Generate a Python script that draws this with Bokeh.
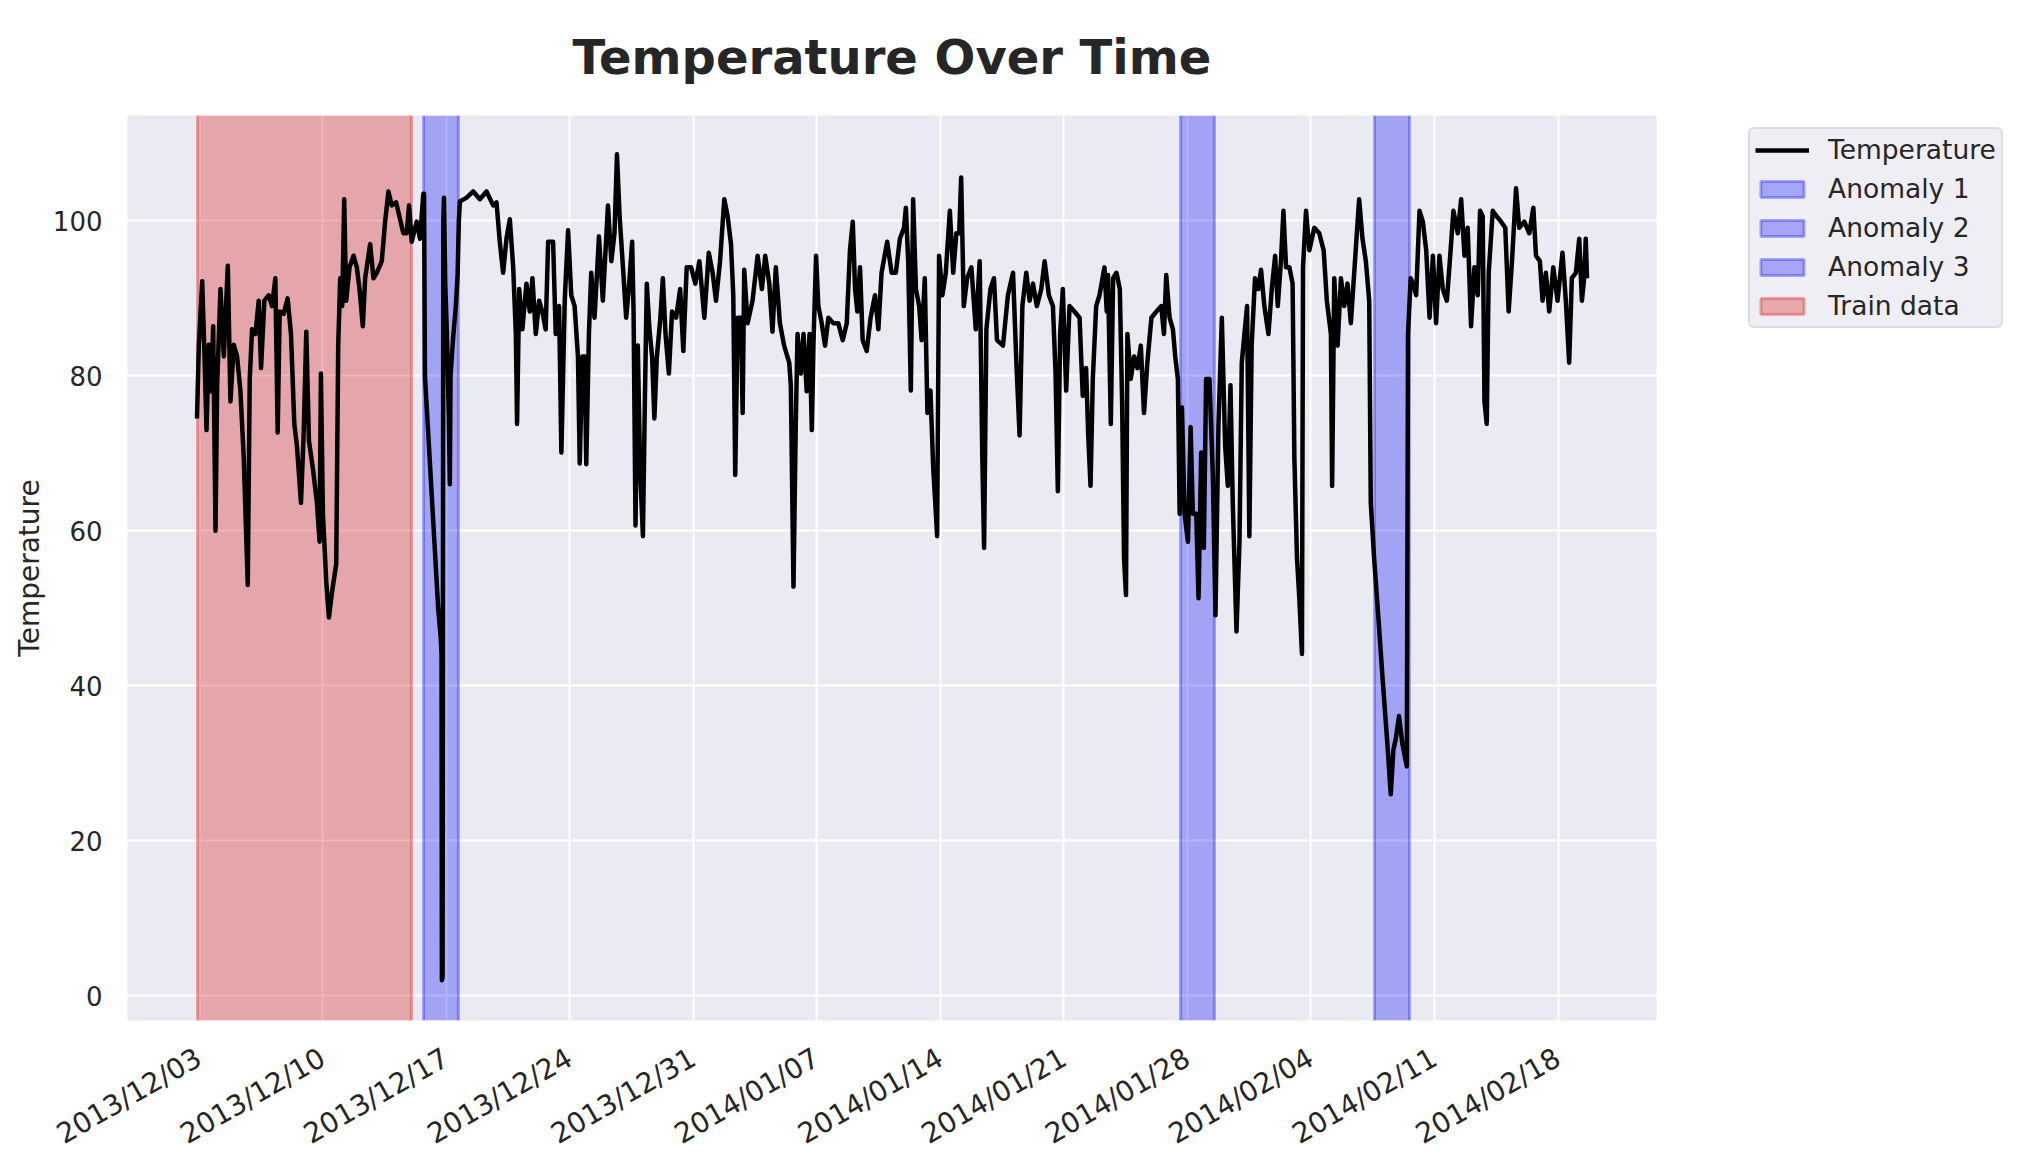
import pandas as pd
from math import pi
from bokeh.plotting import figure
from bokeh.models import Range1d, FixedTicker, Legend, LegendItem
from bokeh.embed import file_html
from bokeh.resources import INLINE

# ---------------- data ----------------
T0 = "2013-12-03 00:00"          # day_offset is measured from this instant
day_offset = [
    -0.115, -0.01, 0.179, 0.311, 0.424, 0.556, 0.688, 0.801, 0.933, 1.027, 1.215, 1.404, 1.630, 1.780,
    1.969, 2.157, 2.346, 2.534, 2.760, 2.873, 3.005, 3.194, 3.382, 3.514, 3.702, 3.947, 4.136, 4.324,
    4.456, 4.569, 4.795, 5.021, 5.210, 5.398, 5.549, 5.775, 5.926, 6.077, 6.227, 6.454, 6.680, 6.830,
    6.906, 7.019, 7.207, 7.358, 7.528, 7.773, 7.886, 7.999, 8.112, 8.225, 8.338, 8.526, 8.752, 8.941,
    9.092, 9.280, 9.412, 9.695, 9.883, 10.071, 10.354, 10.543, 10.731, 10.919, 11.164, 11.390, 11.579,
    11.767, 11.899, 12.050, 12.333, 12.521, 12.709, 12.75, 12.80, 12.95, 13.15, 13.35, 13.55, 13.70,
    13.74, 13.76, 13.80, 13.84, 13.88, 13.95, 14.05, 14.15, 14.21, 14.25, 14.40, 14.55, 14.65, 14.72,
    14.78, 15.159, 15.536, 15.913, 16.290, 16.667, 16.855, 17.04, 17.23, 17.42, 17.61, 17.80, 17.95,
    18.02, 18.14, 18.32, 18.55, 18.74, 18.89, 19.08, 19.27, 19.45, 19.64, 19.78, 20.06, 20.21, 20.40,
    20.53, 20.72, 20.91, 21.09, 21.28, 21.47, 21.57, 21.72, 21.85, 21.94, 22.09, 22.22, 22.41, 22.66,
    22.88, 23.17, 23.36, 23.54, 23.68, 23.83, 24.02, 24.20, 24.35, 24.54, 24.62, 24.73, 24.86, 24.99,
    25.15, 25.26, 25.37, 25.52, 25.67, 25.80, 25.94, 26.13, 26.28, 26.43, 26.62, 26.80, 27.03, 27.26,
    27.44, 27.63, 27.88, 28.12, 28.35, 28.63, 28.88, 29.10, 29.29, 29.52, 29.76, 29.95, 30.14, 30.27,
    30.38, 30.52, 30.71, 30.80, 30.89, 31.08, 31.36, 31.65, 31.89, 32.08, 32.31, 32.49, 32.68, 32.91,
    33.15, 33.44, 33.53, 33.68, 33.81, 33.91, 34.10, 34.25, 34.43, 34.59, 34.72, 34.81, 34.96, 35.09,
    35.28, 35.47, 35.66, 35.94, 36.22, 36.47, 36.70, 36.88, 37.04, 37.17, 37.30, 37.45, 37.60, 37.83,
    38.05, 38.30, 38.49, 38.67, 38.99, 39.24, 39.48, 39.71, 39.94, 40.05, 40.18, 40.33, 40.46, 40.62,
    40.80, 40.94, 41.12, 41.27, 41.44, 41.60, 41.75, 41.82, 41.93, 42.12, 42.31, 42.54, 42.73, 42.91,
    43.07, 43.18, 43.33, 43.52, 43.76, 44.01, 44.23, 44.38, 44.48, 44.61, 44.84, 45.04, 45.21, 45.55,
    45.83, 46.12, 46.31, 46.49, 46.65, 46.87, 47.06, 47.25, 47.47, 47.72, 47.91, 48.15, 48.38, 48.53,
    48.66, 48.79, 48.94, 49.13, 49.32, 49.60, 49.89, 50.07, 50.26, 50.38, 50.51, 50.64, 50.83, 51.02,
    51.30, 51.43, 51.50, 51.66, 51.79, 51.98, 52.17, 52.30, 52.41, 52.52, 52.60, 52.79, 52.98, 53.17,
    53.36, 53.54, 53.73, 53.96, 54.24, 54.52, 54.67, 54.80, 54.99, 55.18, 55.31, 55.46, 55.56, 55.69,
    55.84, 56.03, 56.18, 56.31, 56.50, 56.63, 56.78, 56.93, 57.06, 57.25, 57.44, 57.59, 57.76, 57.95,
    58.14, 58.29, 58.44, 58.57, 58.78, 58.95, 59.08, 59.23, 59.38, 59.51, 59.64, 59.83, 60.02, 60.17,
    60.36, 60.59, 60.78, 60.97, 61.12, 61.30, 61.44, 61.59, 61.78, 61.96, 62.06, 62.21, 62.34, 62.49,
    62.55, 62.72, 62.91, 63.19, 63.47, 63.72, 63.90, 64.13, 64.20, 64.32, 64.51, 64.70, 64.88, 65.07,
    65.26, 65.45, 65.60, 65.73, 65.92, 66.11, 66.30, 66.39, 66.58, 66.81, 67.05, 67.33, 67.52, 67.67,
    67.81, 67.99, 68.18, 68.43, 68.50, 68.65, 68.78, 68.96, 69.15, 69.34, 69.53, 69.72, 69.91, 70.09,
    70.28, 70.47, 70.70, 70.89, 71.07, 71.32, 71.51, 71.70, 71.88, 72.07, 72.26, 72.45, 72.58, 72.73,
    72.83, 72.96, 73.07, 73.30, 73.52, 73.77, 74.01, 74.20, 74.39, 74.62, 74.80, 75.09, 75.37, 75.60,
    75.75, 75.97, 76.12, 76.31, 76.50, 76.73, 76.97, 77.25, 77.44, 77.63, 77.78, 78.01, 78.20, 78.35,
    78.48, 78.57, 78.64,
]
temperature = [
    74.5, 84, 92.2, 82.5, 73, 84, 78, 86.4, 60, 78.8, 91.2, 82.5, 94.2, 76.7,
    84, 82.5, 78, 69.4, 53, 79.6, 86, 85.4, 89.7, 81, 89.7, 90.4, 89, 92.6,
    72.7, 88.3, 88, 90, 85.4, 73.8, 70.9, 63.6, 72.3, 85.7, 71.6, 68, 63.6, 58.6,
    80.3, 62.2, 53.5, 48.8, 52, 55.7, 84, 92.6, 89, 102.8, 89.7, 94, 95.5, 94,
    91.2, 86.4, 92.6, 97, 92.6, 93.3, 94.8, 99.9, 103.8, 102, 102.4, 100.2, 98.4,
    98.4, 102, 97.3, 99.9, 97.7, 103.5, 103.5, 80, 74, 66, 58, 50, 46,
    44, 2, 2.5, 100, 103, 92, 85, 75, 66, 80, 85, 89, 93, 100,
    102.5, 103, 103.8, 102.8, 103.8, 102, 102.4, 97.3, 93.3, 97.7, 100.2, 94, 85.4,
    73.8, 91.2, 86, 91.9, 88.3, 92.6, 85.4, 89.7, 88.3, 86, 97.3, 97.3, 85.4, 89,
    70.1, 89.7, 98.8, 90.4, 89, 82.5, 68.7, 82.5, 82.5, 68.6, 85.4, 93.3, 87.5, 98,
    89.7, 102, 94.8, 98.4, 108.6, 100.6, 94, 87.5, 91.2, 97.3, 88.3, 60.7, 83.9, 68,
    59.3, 76.7, 91.9, 86, 82.5, 74.5, 82.5, 87.2, 92.6, 85.4, 80.3, 88.3, 87.5, 91.2,
    83.2, 94, 94, 91.9, 94.8, 87.5, 95.9, 93.3, 89.7, 94.8, 102.8, 100.6, 97, 90.4,
    67.2, 87.5, 87.5, 75.2, 93.7, 86.8, 89.7, 95.5, 91.2, 95.5, 91.9, 85.7, 94, 86.8,
    83.9, 81.7, 78.8, 52.8, 73.8, 85.4, 80.3, 85.4, 78, 85.4, 73, 83.9, 95.5, 89,
    86.8, 83.9, 87.5, 86.8, 86.8, 84.6, 86.8, 96.2, 99.9, 91.2, 88.3, 94, 84.6, 83.2,
    87.5, 90.4, 86, 93.3, 97.3, 93.3, 93.3, 97.7, 99.1, 101.7, 94.8, 78.1, 102.8, 91.2,
    89, 84.6, 92.6, 75.2, 78.1, 68, 62.2, 59.3, 95.5, 90.4, 93.3, 101.3, 93.3, 98.4,
    98.4, 105.6, 89, 92.6, 94, 86, 94.8, 69.4, 57.8, 86, 91.2, 92.6, 84.6, 83.9,
    90.4, 93.3, 81.7, 72.3, 89, 93.3, 89.7, 91.9, 89, 91.2, 94.8, 90.4, 89, 80.3,
    65.1, 85.4, 91.2, 78.1, 89, 88.3, 87.5, 77.4, 81, 72.3, 65.8, 79.6, 89, 90.4,
    94, 88.3, 93, 73.8, 92.6, 93.3, 91.2, 76.7, 56.4, 51.7, 85.4, 79.6, 82.5, 81,
    83.9, 75.2, 81.7, 87.5, 88.3, 89, 85.4, 93, 87.5, 86, 82.5, 79.6, 62.2, 75.9,
    62.2, 58.6, 73.4, 62.2, 62.2, 51.3, 70.1, 57.8, 79.6, 79.6, 67.2, 49.1, 73.8, 87.5,
    70.9, 65.8, 78.8, 63.6, 47, 58.6, 81.7, 85.4, 89, 59.3, 83.9, 92.6, 91.2, 93.7,
    89, 85.4, 91.2, 95.5, 89, 94.8, 101.3, 94, 94, 91.9, 69.4, 56.4, 51.3, 44.1,
    94, 101.3, 96.2, 99.1, 98.4, 96.2, 89.7, 85.4, 65.8, 92.6, 83.9, 92.6, 89, 91.9,
    86.8, 93.3, 98.4, 102.8, 97.7, 94.8, 89.7, 63.6, 56.4, 49.1, 41.2, 32.5, 26, 31.7,
    33.2, 36.1, 32.5, 29.6, 85.4, 92.6, 91.9, 90.4, 101.3, 99.9, 96.2, 87.5, 95.5, 86.8,
    95.5, 91.2, 89.7, 95.5, 101.3, 98.4, 102.8, 95.5, 99.1, 86.4, 94, 90.4, 101.3, 100.6,
    76.7, 73.8, 93.3, 101.3, 100.6, 99.9, 99.1, 88.3, 94.8, 104.2, 99.1, 99.9, 98.4, 101.7,
    95.5, 94.8, 89.7, 93.3, 88.3, 94, 89.7, 95.9, 89.7, 81.7, 92.6, 93.3, 97.7, 89.7,
    92.6, 97.7, 92.6,
]

anomaly_labels = ["Anomaly 1", "Anomaly 2", "Anomaly 3"]
anomaly_start = ["2013-12-15 17:50", "2014-01-27 14:20", "2014-02-07 14:55"]
anomaly_end = ["2013-12-17 17:00", "2014-01-29 13:30", "2014-02-09 14:05"]
train_label = "Train data"
train_start = "2013-12-02 21:15"
train_end = "2013-12-15 00:15"

tick_labels = ["2013/12/03", "2013/12/10", "2013/12/17", "2013/12/24", "2013/12/31", "2014/01/07",
               "2014/01/14", "2014/01/21", "2014/01/28", "2014/02/04", "2014/02/11", "2014/02/18"]
y_ticks = [0, 20, 40, 60, 80, 100]

# ---------------- build ----------------
FONT = "DejaVu Sans"
TXT = "#262626"

def ms(s):
    return pd.Timestamp(s).value / 1e6

t0 = pd.Timestamp(T0)
times = [t0 + pd.Timedelta(days=d) for d in day_offset]
t_ms = [t.value / 1e6 for t in times]
pad = 0.05 * (max(t_ms) - min(t_ms))

p = figure(frame_width=1529, frame_height=905, x_axis_type="datetime",
           output_backend="svg", toolbar_location=None,
           x_range=Range1d(min(t_ms) - pad, max(t_ms) + pad),
           y_range=Range1d(-3.2, 113.6),
           min_border_left=127, min_border_top=114, min_border_right=0,
           min_border_bottom=0)

p.background_fill_color = "#EAEAF2"
p.border_fill_color = "white"
p.outline_line_color = None
p.grid.grid_line_color = "white"
p.grid.grid_line_width = 2

p.title.text = "Temperature Over Time"
p.title.text_font = FONT
p.title.text_font_size = "48px"
p.title.text_font_style = "bold"
p.title.text_color = TXT
p.title.align = "center"
p.title.vertical_align = "top"
p.title.text_line_height = 0.7
p.title.standoff = 57

# spans
train_r = p.vstrip(x0=[ms(train_start)], x1=[ms(train_end)],
                   fill_color="#D80606", fill_alpha=0.3,
                   line_color="#E00000", line_alpha=0.3, line_width=3)
anom_rs = []
for s, e in zip(anomaly_start, anomaly_end):
    r = p.vstrip(x0=[ms(s)], x1=[ms(e)], fill_color="blue", fill_alpha=0.3,
                 line_color="blue", line_alpha=0.3, line_width=3)
    anom_rs.append(r)

line_r = p.line(x=t_ms, y=temperature, line_color="black", line_width=4.5,
                line_join="round")

# axes
tick_ms = [ms(t.replace("/", "-")) for t in tick_labels]
p.xaxis.ticker = FixedTicker(ticks=tick_ms)
p.xaxis.major_label_overrides = {t: lab for t, lab in zip(tick_ms, tick_labels)}
p.xaxis.major_label_orientation = pi / 6
p.yaxis.ticker = FixedTicker(ticks=y_ticks)
for ax in (p.xaxis[0], p.yaxis[0]):
    ax.axis_line_color = None
    ax.major_tick_line_color = None
    ax.minor_tick_line_color = None
    ax.major_label_text_font = FONT
    ax.major_label_text_color = TXT
p.yaxis.major_label_text_font_size = "26px"
p.xaxis.major_label_text_font_size = "28px"
p.yaxis.major_label_standoff = 19
p.xaxis.major_label_standoff = 29
p.yaxis.axis_label = "Temperature"
p.yaxis.axis_label_text_font = FONT
p.yaxis.axis_label_text_font_size = "28px"
p.yaxis.axis_label_text_font_style = "normal"
p.yaxis.axis_label_text_color = TXT
p.yaxis.axis_label_standoff = 4

items = [LegendItem(label="Temperature", renderers=[line_r])]
for lab, r in zip(anomaly_labels, anom_rs):
    items.append(LegendItem(label=lab, renderers=[r]))
items.append(LegendItem(label=train_label, renderers=[train_r]))

legend = Legend(items=items, location=(92, 692), orientation="vertical",
                label_text_font=FONT, label_text_font_size="26.5px", label_text_color=TXT,
                glyph_width=54, glyph_height=20, label_height=30, spacing=8,
                padding=5, margin=0, label_standoff=19,
                border_line_color="#CCCCCC", border_line_width=2,
                background_fill_color="#EEEEF4", background_fill_alpha=1.0,
                border_radius=6)
p.add_layout(legend, "right")

open("out.html", "w").write(file_html(p, INLINE))
